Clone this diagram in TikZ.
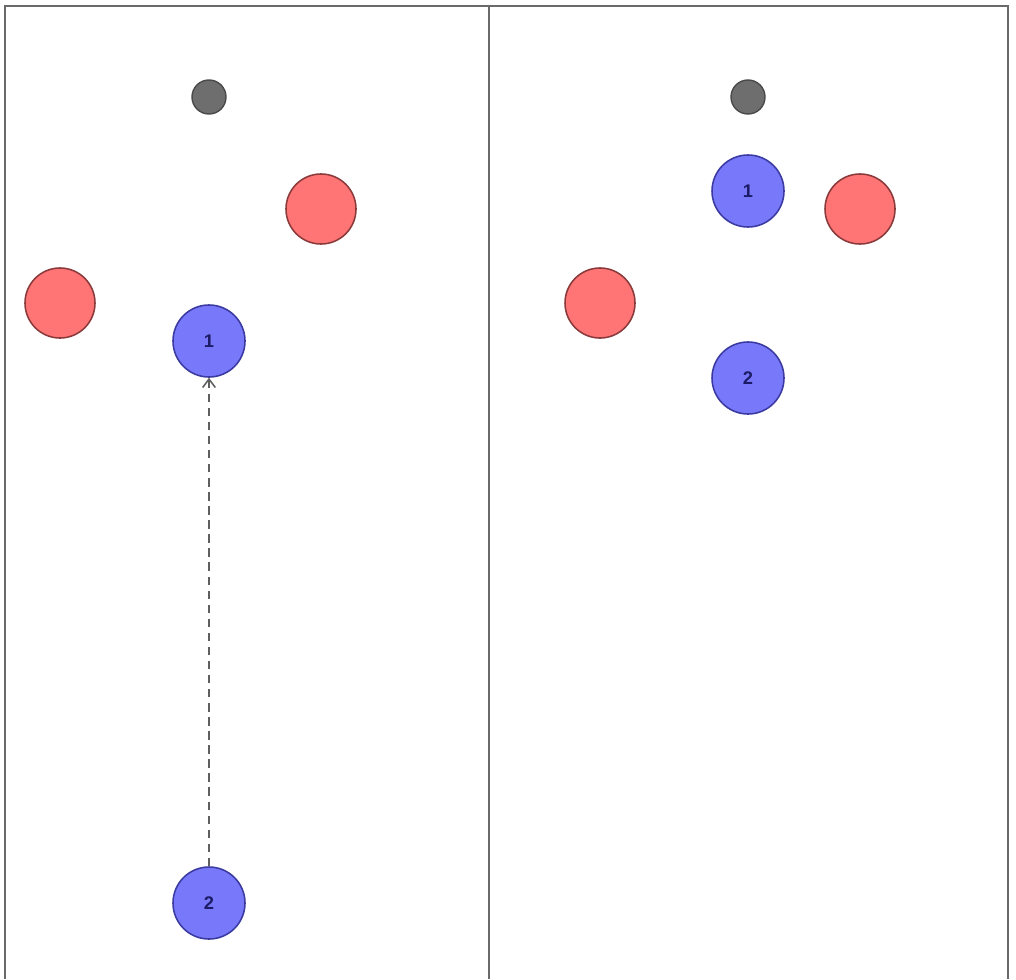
\documentclass[tikz,border=0pt]{standalone}
\usepackage{fontspec}
\setsansfont{Liberation Sans}
\usetikzlibrary{arrows.meta}
\definecolor{redfill}{HTML}{FF7575}
\definecolor{redline}{HTML}{8A3A3A}
\definecolor{bluefill}{HTML}{7878FA}
\definecolor{blueline}{HTML}{3A3AA0}
\definecolor{grayfill}{HTML}{6E6E6E}
\definecolor{grayline}{HTML}{4A4A4A}
\definecolor{framecol}{HTML}{6A6A6A}
\definecolor{numcol}{HTML}{1C1C66}
\begin{document}
\begin{tikzpicture}[x=0.025cm,y=-0.025cm,
  redb/.style={circle,draw=redline,fill=redfill,line width=1.1pt,minimum size=1.75cm,inner sep=0pt},
  blueb/.style={circle,draw=blueline,fill=bluefill,line width=1.1pt,minimum size=1.8cm,inner sep=0pt,text=numcol,font=\sffamily\bfseries\fontsize{13}{13}\selectfont},
  grayb/.style={circle,draw=grayline,fill=grayfill,line width=1pt,minimum size=0.85cm,inner sep=0pt},
  framel/.style={draw=framecol,line width=1.6pt},
  move/.style={draw=framecol!90!black,line width=1.1pt,dashed,dash pattern=on 6pt off 4pt,-{Straight Barb[length=6pt,width=9pt]}}
]
\useasboundingbox (0,0) rectangle (1016,979);
\fill[white] (0,0) rectangle (1016,979);
% frame
\coordinate (fl) at (5,979);
\coordinate (ftl) at (5,6);
\coordinate (ftr) at (1008,6);
\coordinate (fr) at (1008,979);
\coordinate (mt) at (489,6);
\coordinate (mb) at (489,979);
\draw[framel] (fl) -- (ftl) -- (ftr) -- (fr);
\draw[framel] (mt) -- (mb);
% left panel
\node[grayb] (lg) at (209,97) {};
\node[redb] (lr1) at (321,209) {};
\node[redb] (lr2) at (60,303) {};
\node[blueb] (lb1) at (209,341) {1};
\node[blueb] (lb2) at (209,903) {2};
\draw[move] (lb2) -- (lb1);
% right panel
\node[grayb] (rg) at (748,97) {};
\node[blueb] (rb1) at (748,191) {1};
\node[redb] (rr1) at (860,209) {};
\node[redb] (rr2) at (600,303) {};
\node[blueb] (rb2) at (748,378) {2};
\end{tikzpicture}
\end{document}
